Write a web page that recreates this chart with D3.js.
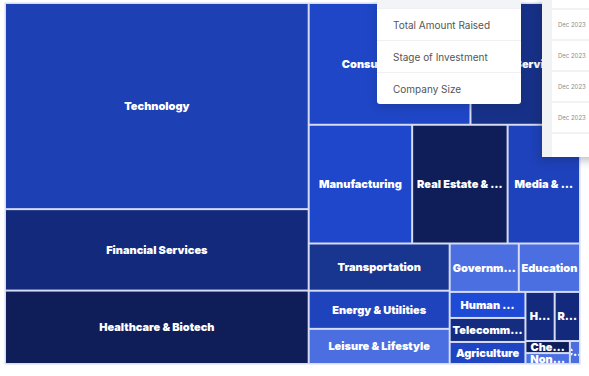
<!DOCTYPE html>
<head>
<meta charset="utf-8" />
<script src="https://d3js.org/d3.v7.min.js"></script>
<style>
    body {
        margin: 0;
        background: #fff;
        font-family: Inter, "Noto Sans", sans-serif;
    }
    #wrap {
        position: relative;
        width: 589px;
        height: 376px;
        overflow: hidden;
    }
    svg { position: absolute; left: 0; top: 0; }
    .menu {
        position: absolute;
        left: 377px;
        top: 0;
        width: 144px;
        background: #fff;
        border-radius: 0 0 3px 3px;
        box-shadow: 0 3px 10px rgba(20, 30, 60, 0.25);
    }
    .menu .stub { height: 8px; background: #f3f4f8; }
    .menu .opt {
        height: 32px;
        line-height: 32px;
        padding-left: 16px;
        font-size: 10px;
        color: #555;
        border-top: 1px solid #eef0f4;
        box-sizing: border-box;
    }
    .panel {
        position: absolute;
        left: 542px;
        top: 0;
        width: 60px;
        height: 157px;
        background: #f1f2f4;
        overflow: hidden;
        box-shadow: -2px 3px 9px rgba(20, 30, 60, 0.3);
    }
    .panel div {
        position: absolute;
        left: 10px;
        width: 60px;
        height: 29px;
        line-height: 29px;
        padding-left: 6px;
        background: #fff;
        font-size: 6px;
        color: #8c8c8c;
    }
</style>
</head>

<body>
<div id="wrap"></div>

<script>
    // sectors and what was raised in each (treemap size), plus yoy change (colour)
    const sectors = ["Technology", "Financial Services", "Healthcare & Biotech",
        "Consumer Goods", "Data Services", "Manufacturing", "Real Estate & Construction",
        "Media & Entertainment", "Transportation", "Energy & Utilities", "Leisure & Lifestyle",
        "Government", "Education", "Human Resources", "Telecommunications", "Agriculture",
        "Hospitality", "Retail", "Chemicals", "Nonprofit", "Cybersecurity"];
    const raised = [6191, 2446, 2205, 1948, 1319, 1215, 1121, 850, 658, 532, 490,
        331, 293, 195, 180, 165, 142, 123, 53, 48, 23];
    const change = [5, -15, -30, 14, -8, 16, -30, 8, -5, 9, 40,
        40, 40, 22, -12, 12, -15, -15, -30, 40, 40];

    // how the blocks are grouped
    const layout = [
        ["Technology", "Financial Services", "Healthcare & Biotech"],
        [["Consumer Goods", "Data Services"],
         ["Manufacturing", "Real Estate & Construction", "Media & Entertainment"],
         [["Transportation", "Energy & Utilities", "Leisure & Lifestyle"],
          [["Government", "Education"],
           [["Human Resources", "Telecommunications", "Agriculture"],
            [["Hospitality", "Retail"],
             [["Chemicals", "Nonprofit"], "Cybersecurity"]]]]]]
    ];

    const menuOptions = ["Total Amount Raised", "Stage of Investment", "Company Size"];
    const panelDates = ["Dec 2023", "Dec 2023", "Dec 2023", "Dec 2023"];

    const width = 589, height = 376;
    const margin = { top: 4, left: 6 };
    const tmW = 573, tmH = 359;

    const raisedOf = new Map(sectors.map((s, i) => [s, raised[i]]));
    const changeOf = new Map(sectors.map((s, i) => [s, change[i]]));

    var color = d3.scaleLinear()
        .domain([-30, -15, -5, 5, 15, 22, 40])
        .range(["#0f1e59", "#13297b", "#18358f", "#1e40b5", "#1f47c9", "#1e4ad6", "#4b6fe0"]);

    var root = d3.hierarchy(layout, d => Array.isArray(d) ? d : null)
        .sum(d => Array.isArray(d) ? 0 : raisedOf.get(d));

    d3.treemap()
        .tile(d3.treemapSliceDice)
        .size([tmW, tmH])
        .paddingInner(2)(root);

    var wrap = d3.select("#wrap");

    var svg = wrap.append("svg")
        .attr("width", width)
        .attr("height", height);

    var g = svg.append("g")
        .attr("transform", "translate(" + margin.left + "," + margin.top + ")");

    // light frame behind the cells
    g.append("rect")
        .attr("x", -1.5).attr("y", -1.5)
        .attr("width", tmW + 3).attr("height", tmH + 3)
        .attr("fill", "#d6dcf3");

    var leaves = root.leaves();

    var cell = g.selectAll("g.cell")
        .data(leaves)
        .join("g")
        .attr("class", "cell")
        .attr("transform", d => "translate(" + d.x0 + "," + d.y0 + ")");

    cell.append("clipPath")
        .attr("id", (d, i) => "clip" + i)
        .append("rect")
        .attr("width", d => d.x1 - d.x0)
        .attr("height", d => d.y1 - d.y0);

    cell.append("rect")
        .attr("width", d => d.x1 - d.x0)
        .attr("height", d => d.y1 - d.y0)
        .attr("fill", d => color(changeOf.get(d.data)));

    cell.append("text")
        .attr("clip-path", (d, i) => "url(#clip" + i + ")")
        .attr("x", d => (d.x1 - d.x0) / 2)
        .attr("y", d => (d.y1 - d.y0) / 2)
        .attr("dy", "0.36em")
        .attr("text-anchor", "middle")
        .attr("fill", "#fff")
        .style("font-family", "Inter, sans-serif")
        .style("font-weight", 900)
        .style("font-size", "11px")
        .each(function(d) {
            var t = d3.select(this), label = d.data, w = d.x1 - d.x0;
            t.text(label);
            if (this.getComputedTextLength() <= w - 1) return;
            var n = label.length;
            do {
                n--;
                t.text(label.slice(0, n) + "\u2026");
            } while (this.getComputedTextLength() > w - 1 && n > 1);
            // prefer cutting at a word boundary when the label has several words
            var cut = label.slice(0, n), sp = cut.lastIndexOf(" ");
            if (label[n] !== " " && sp > 0) cut = cut.slice(0, sp + 1);
            t.text(cut + "\u2026");
        });

    // dropdown that was open over the chart
    var menu = wrap.append("div").attr("class", "menu");
    menu.append("div").attr("class", "stub");
    menu.selectAll("div.opt")
        .data(menuOptions)
        .join("div")
        .attr("class", "opt")
        .text(d => d);

    // side list on the right
    var panel = wrap.append("div").attr("class", "panel");
    panel.append("div").style("top", "-21px");
    panel.selectAll("div.card")
        .data(panelDates)
        .join("div")
        .attr("class", "card")
        .style("top", (d, i) => (10 + i * 31) + "px")
        .text(d => d);
    panel.append("div").style("top", (10 + panelDates.length * 31) + "px");
</script>
</body>
